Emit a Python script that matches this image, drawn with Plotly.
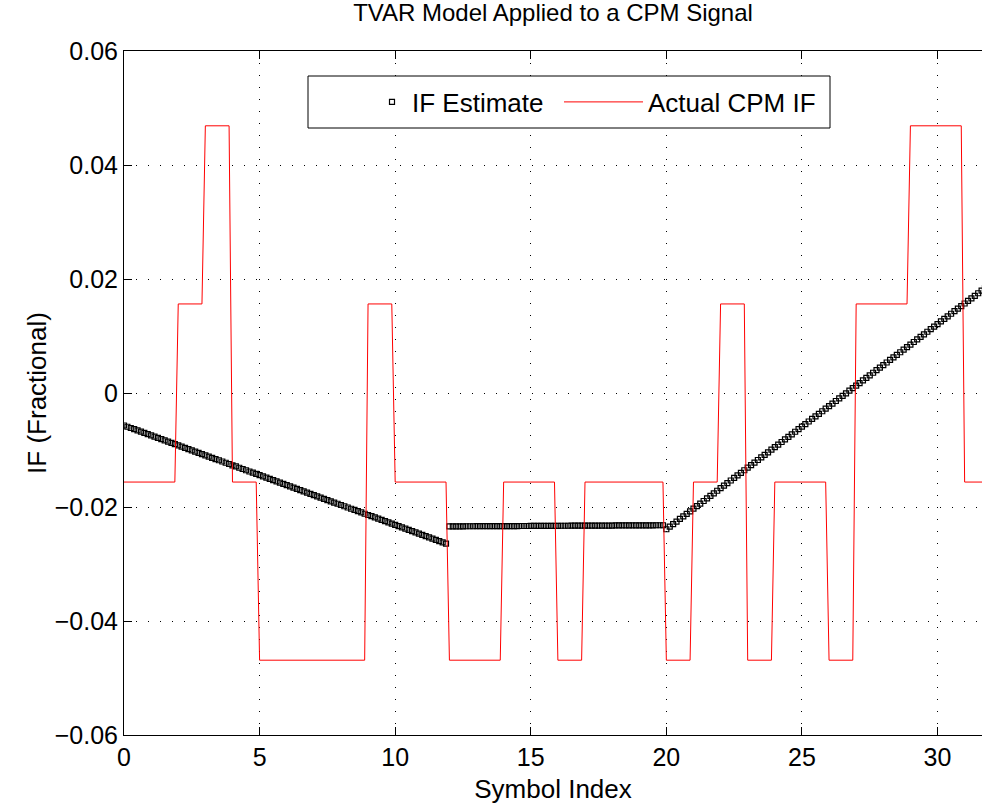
import numpy as np
import plotly.graph_objects as go

# ---------------- data ----------------
SAMPLES_PER_SYMBOL = 8

# Actual CPM instantaneous frequency, one level per symbol (symbols 0..31)
cpm_symbol_levels = [
    -0.015625, -0.015625, 0.015625, 0.046875, -0.015625, -0.046875, -0.046875, -0.046875,
    -0.046875, 0.015625, -0.015625, -0.015625, -0.046875, -0.046875, -0.015625, -0.015625,
    -0.046875, -0.015625, -0.015625, -0.015625, -0.046875, -0.015625, 0.015625, -0.046875,
    -0.015625, -0.015625, -0.046875, 0.015625, 0.015625, 0.046875, 0.046875, -0.015625,
]

# TVAR IF estimate, one value per sample (8 samples per symbol)
if_estimate_block1 = [
    -0.00570, -0.00592, -0.00614, -0.00635, -0.00657, -0.00679, -0.00701, -0.00723,
    -0.00744, -0.00766, -0.00788, -0.00810, -0.00832, -0.00853, -0.00875, -0.00897,
    -0.00919, -0.00941, -0.00962, -0.00984, -0.01006, -0.01028, -0.01050, -0.01071,
    -0.01093, -0.01115, -0.01137, -0.01159, -0.01180, -0.01202, -0.01224, -0.01246,
    -0.01268, -0.01289, -0.01311, -0.01333, -0.01355, -0.01377, -0.01398, -0.01420,
    -0.01442, -0.01464, -0.01486, -0.01507, -0.01529, -0.01551, -0.01573, -0.01595,
    -0.01616, -0.01638, -0.01660, -0.01682, -0.01704, -0.01725, -0.01747, -0.01769,
    -0.01791, -0.01813, -0.01834, -0.01856, -0.01878, -0.01900, -0.01922, -0.01943,
    -0.01965, -0.01987, -0.02009, -0.02031, -0.02052, -0.02074, -0.02096, -0.02118,
    -0.02140, -0.02161, -0.02183, -0.02205, -0.02227, -0.02249, -0.02270, -0.02292,
    -0.02314, -0.02336, -0.02358, -0.02379, -0.02401, -0.02423, -0.02445, -0.02467,
    -0.02488, -0.02510, -0.02532, -0.02554, -0.02576, -0.02597, -0.02619, -0.02641,
]
if_estimate_block2 = [
    -0.02340, -0.02340, -0.02339, -0.02339, -0.02339, -0.02338, -0.02338, -0.02338,
    -0.02337, -0.02337, -0.02337, -0.02336, -0.02336, -0.02336, -0.02336, -0.02335,
    -0.02335, -0.02335, -0.02334, -0.02334, -0.02334, -0.02333, -0.02333, -0.02333,
    -0.02332, -0.02332, -0.02332, -0.02331, -0.02331, -0.02331, -0.02330, -0.02330,
    -0.02330, -0.02329, -0.02329, -0.02329, -0.02328, -0.02328, -0.02328, -0.02328,
    -0.02327, -0.02327, -0.02327, -0.02326, -0.02326, -0.02326, -0.02325, -0.02325,
    -0.02325, -0.02324, -0.02324, -0.02324, -0.02323, -0.02323, -0.02323, -0.02322,
    -0.02322, -0.02322, -0.02321, -0.02321, -0.02321, -0.02320, -0.02320, -0.02320,
]
if_estimate_block3 = [
    -0.02390, -0.02345, -0.02300, -0.02255, -0.02210, -0.02165, -0.02120, -0.02075,
    -0.02030, -0.01985, -0.01940, -0.01895, -0.01850, -0.01805, -0.01760, -0.01715,
    -0.01670, -0.01625, -0.01580, -0.01535, -0.01490, -0.01445, -0.01400, -0.01355,
    -0.01310, -0.01265, -0.01220, -0.01175, -0.01130, -0.01085, -0.01040, -0.00995,
    -0.00950, -0.00905, -0.00860, -0.00815, -0.00770, -0.00725, -0.00680, -0.00635,
    -0.00590, -0.00545, -0.00500, -0.00455, -0.00410, -0.00365, -0.00320, -0.00275,
    -0.00230, -0.00185, -0.00140, -0.00095, -0.00050, -0.00005, 0.00040, 0.00085,
    0.00130, 0.00175, 0.00220, 0.00265, 0.00310, 0.00355, 0.00400, 0.00445,
    0.00490, 0.00535, 0.00580, 0.00625, 0.00670, 0.00715, 0.00760, 0.00805,
    0.00850, 0.00895, 0.00940, 0.00985, 0.01030, 0.01075, 0.01120, 0.01165,
    0.01210, 0.01255, 0.01300, 0.01345, 0.01390, 0.01435, 0.01480, 0.01525,
    0.01570, 0.01615, 0.01660, 0.01705, 0.01750, 0.01795, 0.01840, 0.01885,
]

x_tick_vals = [0, 5, 10, 15, 20, 25, 30]
y_tick_vals = [-0.06, -0.04, -0.02, 0, 0.02, 0.04, 0.06]
y_tick_text = ["\u22120.06", "\u22120.04", "\u22120.02", "0", "0.02", "0.04", "0.06"]

title_text = "TVAR Model Applied to a CPM Signal"
x_label = "Symbol Index"
y_label = "IF (Fractional)"
series_names = ["IF Estimate", "Actual CPM IF"]

# ---------------- build ----------------
if_estimate = if_estimate_block1 + if_estimate_block2 + if_estimate_block3
cpm_samples = np.repeat(np.array(cpm_symbol_levels), SAMPLES_PER_SYMBOL)
t_est = np.arange(len(if_estimate)) / SAMPLES_PER_SYMBOL
t_cpm = np.arange(len(cpm_samples)) / SAMPLES_PER_SYMBOL

FONT = "Liberation Sans, Arial, Helvetica, sans-serif"
FS_TICK = 25
FS_LABEL = 26
FS_LEGEND = 26
FS_TITLE = 24

fig = go.Figure()
fig.add_trace(go.Scatter(
    x=t_est, y=if_estimate, mode="markers", name=series_names[0], legend="legend",
    marker=dict(symbol="square-open", size=5, color="black", line=dict(width=1.2, color="black")),
))
fig.add_trace(go.Scatter(
    x=t_cpm, y=cpm_samples, mode="lines", name=series_names[1], legend="legend2",
    line=dict(color="#ff0000", width=1),
))

W, H = 982, 804
L, R, T, B = 124, 0, 51, 69
plot_w = W - L - R
plot_h = H - T - B


def px_x(p):
    return (p - L) / plot_w


def px_y(p):
    return 1 - (p - T) / plot_h


legend_common = dict(
    orientation="h", yanchor="middle", y=px_y(102), xanchor="left",
    bgcolor="rgba(0,0,0,0)", borderwidth=0, font=dict(size=FS_LEGEND),
)

fig.update_layout(
    width=W, height=H,
    margin=dict(l=L, r=R, t=T, b=B, pad=0),
    paper_bgcolor="white", plot_bgcolor="white",
    font=dict(family=FONT, color="black", size=FS_TICK),
    title=dict(text=title_text, x=(L + plot_w / 2) / W, xanchor="center",
               y=1 - 13 / H, yanchor="middle", font=dict(size=FS_TITLE)),
    showlegend=True,
    legend=dict(legend_common, x=px_x(372), itemwidth=30),
    legend2=dict(legend_common, x=px_x(559), itemwidth=79),
    shapes=[dict(type="rect", xref="paper", yref="paper",
                 x0=px_x(308), x1=px_x(830), y0=px_y(128), y1=px_y(76),
                 fillcolor="white", line=dict(color="black", width=1), layer="above")],
)
fig.update_xaxes(
    range=[0, 31.64], tickvals=x_tick_vals,
    showline=True, linecolor="black", linewidth=1, mirror="ticks",
    ticks="inside", ticklen=8, tickcolor="black",
    showgrid=True, gridcolor="black", gridwidth=1, griddash="1px,11px",
    zeroline=False,
    title=dict(text=x_label, standoff=12, font=dict(size=FS_LABEL)),
    tickfont=dict(size=FS_TICK),
)
fig.update_yaxes(
    range=[-0.06, 0.06], tickvals=y_tick_vals, ticktext=y_tick_text,
    showline=True, linecolor="black", linewidth=1, mirror=False,
    ticks="inside", ticklen=8, tickcolor="black",
    showgrid=True, gridcolor="black", gridwidth=1, griddash="1px,11px",
    zeroline=False,
    title=dict(text=y_label, standoff=0, font=dict(size=FS_LABEL)),
    tickfont=dict(size=FS_TICK),
)

fig.write_html("out.html")
